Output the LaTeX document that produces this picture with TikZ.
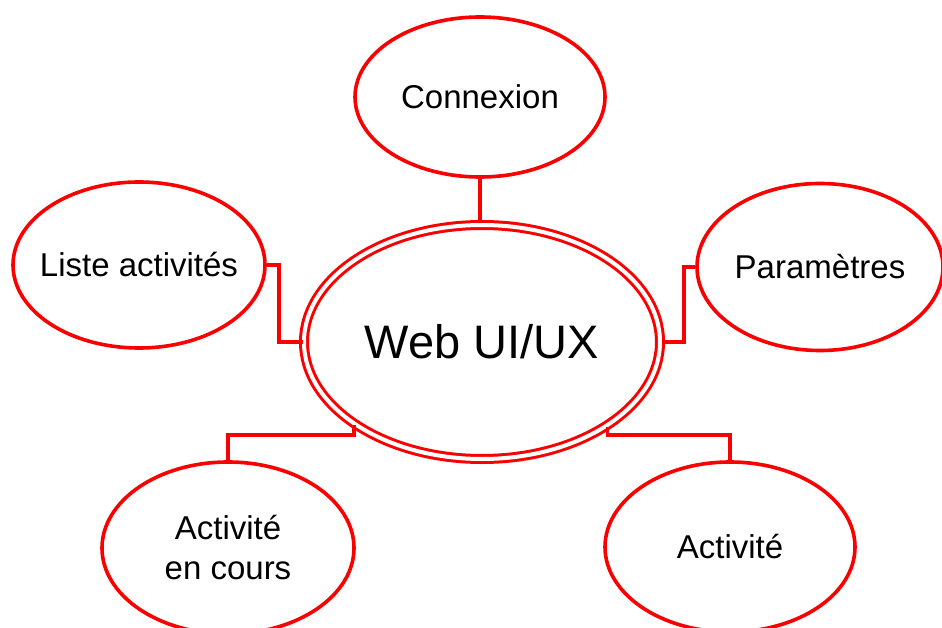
\documentclass[tikz,border=0pt]{standalone}
\usepackage{fontspec}
\setmainfont{Liberation Sans}
\definecolor{mmred}{RGB}{250,0,0}
\usetikzlibrary{shapes.geometric,positioning,calc}
\tikzset{
    bubble/.style={
        ellipse, draw=mmred, line width=3.6pt, fill=white, inner sep=0pt
    },
    caption/.style={
        align=center, inner sep=0pt, font=\fontsize{33}{40}\selectfont
    },
    hub/.style={
        ellipse, draw=mmred, line width=3pt, double=white,
        double distance=4pt, inner sep=0pt,
        font=\fontsize{47}{54}\selectfont
    },
    link/.style={
        draw=mmred, line width=3.6pt
    }
}
\begin{document}
\begin{tikzpicture}[x=1pt,y=-1pt]
\useasboundingbox (0,0) rectangle (942,628);
\node[hub, minimum width=356pt, minimum height=234pt] (web) at (482,342) {Web UI/UX};
\node[bubble, minimum width=250pt, minimum height=160pt,
  label={[caption]center:Connexion}] (conn) at (480,97) {};
\node[bubble, minimum width=252pt, minimum height=166pt,
  label={[caption]center:Liste activités}] (liste) at (139,265) {};
\node[bubble, minimum width=246pt, minimum height=167pt,
  label={[caption]center:Paramètres}] (param) at (820,267) {};
\node[bubble, minimum width=252pt, minimum height=172pt,
  label={[caption]center:Activité\\en cours}] (encours) at (228,548) {};
\node[bubble, minimum width=250pt, minimum height=170pt,
  label={[caption]center:Activité}] (activ) at (730,547) {};
% connectors
\draw[link] (conn.south) -- (conn.south |- web.north);
\draw[link] (liste.east) -- ++(12,0) |- (web.west);
\draw[link] (param.west) -- ++(-11,0) |- (web.east);
\draw[link] (encours.north) -- ++(0,-25) -| (web.213);
\draw[link] (activ.north) -- ++(0,-25) -| (web.-34);
\end{tikzpicture}
\end{document}
